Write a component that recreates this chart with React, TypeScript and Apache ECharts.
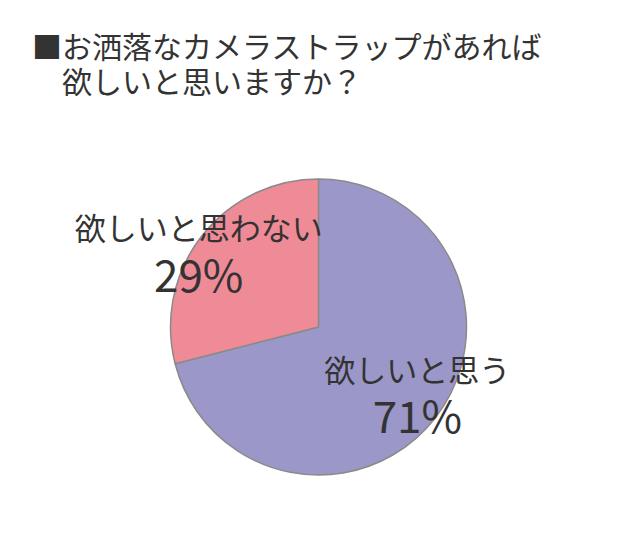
import React, { useEffect, useRef } from 'react';
import * as echarts from 'echarts';

// 回答の区分と割合（%）
const answers = ['欲しいと思う', '欲しいと思わない'];
const shares = [71, 29];
const sliceColors = ['#9b97c9', '#ef8b97'];

const titleText = '■お洒落なカメラストラップがあれば\n　欲しいと思いますか？';

// ラベルを円の中心からずらす量
const labelShift = [
  { dx: 38, dy: 16 },
  { dx: -59, dy: -31 },
];

const FONT = '"Noto Sans CJK JP", "Noto Sans", sans-serif';

const App: React.FC = () => {
  const chartRef = useRef<HTMLDivElement>(null);

  useEffect(() => {
    document.body.style.margin = '0';
    if (!chartRef.current) return;
    const chart = echarts.init(chartRef.current, undefined, { renderer: 'svg' });

    const option = {
      animation: false,
      backgroundColor: '#ffffff',
      title: {
        text: titleText,
        left: 27,
        top: 22,
        textStyle: {
          fontFamily: FONT,
          fontSize: 30,
          fontWeight: 'normal',
          lineHeight: 35,
          color: '#333333',
        },
      },
      series: [
        {
          type: 'pie',
          center: [318.5, 327],
          radius: 148,
          startAngle: 90,
          clockwise: true,
          silent: true,
          emphasis: { disabled: true },
          itemStyle: {
            borderColor: '#8a8a8a',
            borderWidth: 1.5,
          },
          label: {
            show: true,
            position: 'inside',
            formatter: '{n|{b}}\n{p|{c}%}',
            color: '#333333',
            rich: {
              n: {
                fontFamily: FONT,
                fontSize: 31,
                lineHeight: 48,
                color: '#333333',
                align: 'center',
              },
              p: {
                fontFamily: FONT,
                fontSize: 44,
                lineHeight: 44,
                color: '#333333',
                align: 'center',
              },
            },
          },
          labelLine: { show: false },
          labelLayout: (params: any) => labelShift[params.dataIndex],
          data: answers.map((name, i) => ({
            name,
            value: shares[i],
            itemStyle: { color: sliceColors[i] },
          })),
        },
      ],
    };

    chart.setOption(option);

    return () => {
      chart.dispose();
    };
  }, []);

  return <div ref={chartRef} style={{ width: 640, height: 553 }} />;
};

export default App;
